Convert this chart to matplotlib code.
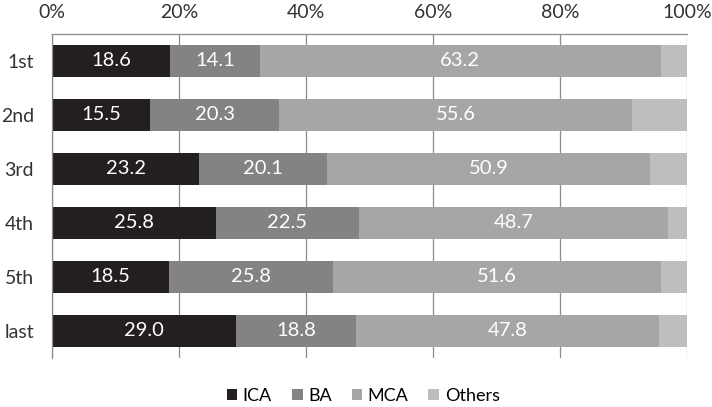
import numpy as np
import matplotlib.pyplot as plt

plt.rcParams['font.family'] = ['Lato', 'DejaVu Sans']

rounds = ["1st", "2nd", "3rd", "4th", "5th", "last"]
ica = [18.6, 15.5, 23.2, 25.8, 18.5, 29.0]
ba = [14.1, 20.3, 20.1, 22.5, 25.8, 18.8]
mca = [63.2, 55.6, 50.9, 48.7, 51.6, 47.8]
others = [4.1, 8.6, 5.8, 3.0, 4.1, 4.4]

series = [("ICA", ica, "#231f20", True),
          ("BA", ba, "#838385", True),
          ("MCA", mca, "#a6a6a8", True),
          ("Others", others, "#bebebf", False)]

fig = plt.figure(figsize=(7.12, 4.07), dpi=100)
ax = fig.add_axes([52/712, 1-358/407, 635/712, 324/407])

y = np.arange(len(rounds))
left = np.zeros(len(rounds))
for name, vals, col, lab in series:
    vals = np.array(vals)
    ax.barh(y, vals, left=left, height=0.58, color=col, label=name, zorder=2)
    if lab:
        for yi, l, v in zip(y, left, vals):
            ax.text(l + v/2, yi, f"{v:.1f}", ha='center', va='center',
                    color='white', fontsize=14.5, zorder=3)
    left += vals

ax.set_xlim(0, 100)
ax.set_ylim(len(rounds) - 0.5, -0.5)
ax.set_yticks(y)
ax.set_yticklabels(rounds)
ax.set_xticks(np.arange(0, 101, 20))
ax.set_xticklabels([f"{v}%" for v in range(0, 101, 20)])
ax.xaxis.tick_top()
ax.tick_params(axis='both', length=0, labelsize=14, colors='#333333')
ax.tick_params(axis='x', pad=9)
ax.tick_params(axis='y', pad=13)
ax.grid(axis='x', color='#8c8c8c', linewidth=0.9, zorder=1)
for s in ['right', 'bottom']:
    ax.spines[s].set_visible(False)
for s in ['top', 'left']:
    ax.spines[s].set_color('#8c8c8c')
    ax.spines[s].set_linewidth(0.9)

fig.legend(loc='lower center', ncol=4, frameon=False, fontsize=13,
           handlelength=0.6, handleheight=0.6, handletextpad=0.3,
           columnspacing=1.1, bbox_to_anchor=(0.51, -0.032))

fig.savefig("out.png", dpi=100)
